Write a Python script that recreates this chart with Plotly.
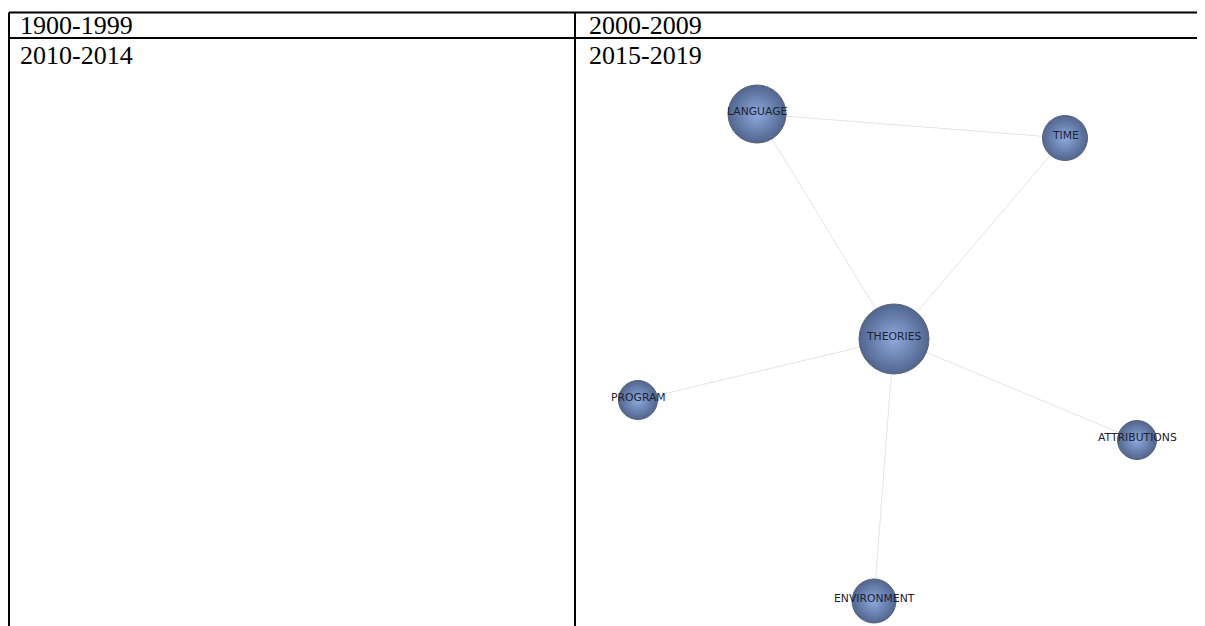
import plotly.graph_objects as go

# ---- data ----
period_labels = ["1900-1999", "2000-2009", "2010-2014", "2015-2019"]

node_names = ["LANGUAGE", "TIME", "THEORIES", "PROGRAM", "ATTRIBUTIONS", "ENVIRONMENT"]
node_x = [757, 1065, 894, 638, 1137, 874]
node_y = [114, 138, 339, 400, 440, 601]
node_weight = [29, 22.5, 35, 19.5, 19.5, 22]

edge_from = ["LANGUAGE", "LANGUAGE", "TIME", "THEORIES", "THEORIES", "THEORIES"]
edge_to = ["TIME", "THEORIES", "THEORIES", "PROGRAM", "ATTRIBUTIONS", "ENVIRONMENT"]

# ---- layout constants (page-pixel frame; page body has an 8px margin) ----
W, H = 1205, 626
OFF = 8
table_left = 9
table_mid = 575
table_top = 12.5
row_sep = 38
line_w = 2
header_pos = [(table_left + 10, 25.5), (table_mid + 13, 25.5), (table_left + 10, 55), (table_mid + 13, 55)]

idx = {n: i for i, n in enumerate(node_names)}
ex, ey = [], []
for a, b in zip(edge_from, edge_to):
    ex += [node_x[idx[a]], node_x[idx[b]], None]
    ey += [node_y[idx[a]], node_y[idx[b]], None]

fig = go.Figure()
fig.add_trace(go.Scatter(x=ex, y=ey, mode="lines",
                         line=dict(color="#e4e4e4", width=1),
                         hoverinfo="skip", showlegend=False))
fig.add_trace(go.Scatter(
    x=node_x, y=node_y, mode="markers",
    marker=dict(size=[2 * w for w in node_weight], sizemode="diameter",
                color="#51658e",
                gradient=dict(type="radial", color="#8eaadf"),
                line=dict(color="#5c6374", width=1), opacity=1),
    text=node_names, hoverinfo="text", showlegend=False))

shapes = [
    dict(type="line", x0=table_left, x1=W + 10, y0=table_top, y1=table_top),
    dict(type="line", x0=table_left, x1=W + 10, y0=row_sep, y1=row_sep),
    dict(type="line", x0=table_left, x1=table_left, y0=table_top, y1=H + 10),
    dict(type="line", x0=table_mid, x1=table_mid, y0=table_top, y1=H + 10),
]
for s in shapes:
    s.update(xref="x", yref="y", line=dict(color="black", width=line_w))

annotations = []
for lab, (px, py) in zip(period_labels, header_pos):
    annotations.append(dict(x=px, y=py, xref="x", yref="y", text=lab, showarrow=False,
                            xanchor="left", yanchor="middle", borderpad=0,
                            font=dict(family="Liberation Serif", size=26, color="black")))
for n, x, y in zip(node_names, node_x, node_y):
    annotations.append(dict(x=x, y=y, xref="x", yref="y", text=n, showarrow=False,
                            xanchor="center", yanchor="middle", yshift=3,
                            font=dict(family="DejaVu Sans", size=10.8, color="#1c2232")))

fig.update_layout(
    width=W - OFF, height=H - OFF, margin=dict(l=0, r=0, t=0, b=0),
    paper_bgcolor="white", plot_bgcolor="white",
    xaxis=dict(range=[OFF, W], visible=False, domain=[0, 1], fixedrange=True),
    yaxis=dict(range=[H, OFF], visible=False, domain=[0, 1], fixedrange=True),
    shapes=shapes, annotations=annotations,
)
fig.write_html("out.html")
